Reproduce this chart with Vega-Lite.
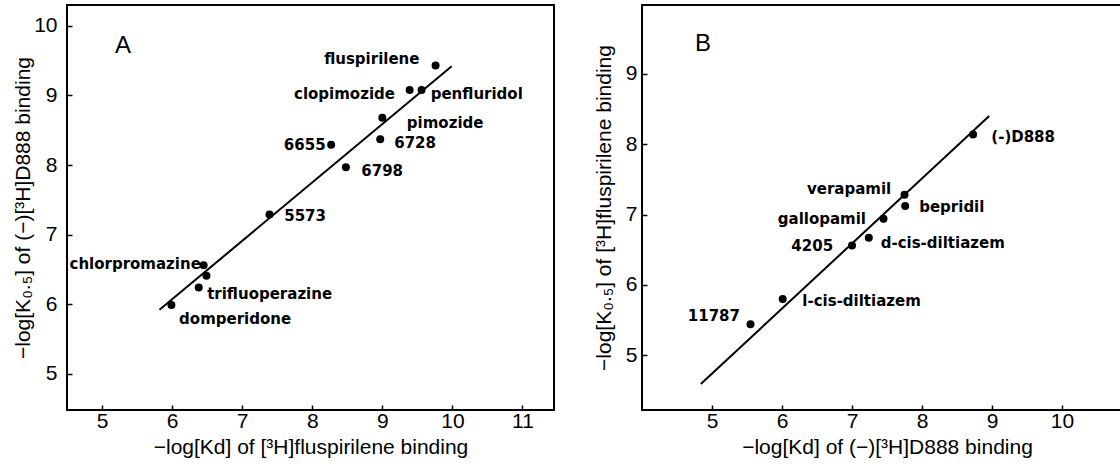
{
  "$schema": "https://vega.github.io/schema/vega-lite/v6.json",
  "padding": {"left": 11, "top": 4, "right": 0, "bottom": 0},
  "background": "white",
  "spacing": 37,
  "config": {
    "view": {"stroke": "black", "strokeWidth": 2},
    "font": "Liberation Sans",
    "axis": {
      "domain": false, "grid": false, "tickSize": -5, "tickColor": "black", "tickWidth": 1.5, "format": "d",
      "labelFontSize": 21, "labelColor": "black", "labelFont": "Liberation Sans",
      "titleFontSize": 21, "titleFontWeight": "normal", "titleColor": "black", "titleFont": "Liberation Sans"
    }
  },
  "datasets": {
    "pointsA": [
      {"drug": "fluspirilene", "x": 9.76, "y": 9.43, "lx": 9.53, "ly": 9.52},
      {"drug": "clopimozide", "x": 9.39, "y": 9.08, "lx": 9.18, "ly": 9.02},
      {"drug": "penfluridol", "x": 9.56, "y": 9.08, "lx": 9.69, "ly": 9.02},
      {"drug": "pimozide", "x": 9.0, "y": 8.68, "lx": 9.35, "ly": 8.61},
      {"drug": "6728", "x": 8.97, "y": 8.37, "lx": 9.17, "ly": 8.32},
      {"drug": "6655", "x": 8.27, "y": 8.29, "lx": 8.19, "ly": 8.29},
      {"drug": "6798", "x": 8.48, "y": 7.97, "lx": 8.7, "ly": 7.92},
      {"drug": "5573", "x": 7.39, "y": 7.29, "lx": 7.6, "ly": 7.27},
      {"drug": "chlorpromazine", "x": 6.45, "y": 6.56, "lx": 6.41, "ly": 6.58},
      {"drug": "", "x": 6.49, "y": 6.41, "lx": 6.49, "ly": 6.41},
      {"drug": "trifluoperazine", "x": 6.38, "y": 6.24, "lx": 6.5, "ly": 6.15},
      {"drug": "domperidone", "x": 5.99, "y": 5.99, "lx": 6.1, "ly": 5.79}
    ],
    "fitA": [{"x": 5.82, "y": 5.92}, {"x": 9.99, "y": 9.42}],
    "pointsB": [
      {"drug": "(-)D888", "x": 8.73, "y": 8.14, "lx": 8.99, "ly": 8.1},
      {"drug": "verapamil", "x": 7.75, "y": 7.28, "lx": 7.56, "ly": 7.37},
      {"drug": "bepridil", "x": 7.76, "y": 7.12, "lx": 7.96, "ly": 7.11},
      {"drug": "gallopamil", "x": 7.45, "y": 6.94, "lx": 7.2, "ly": 6.93},
      {"drug": "d-cis-diltiazem", "x": 7.24, "y": 6.67, "lx": 7.41, "ly": 6.6},
      {"drug": "4205", "x": 7.0, "y": 6.56, "lx": 6.73, "ly": 6.55},
      {"drug": "l-cis-diltiazem", "x": 6.01, "y": 5.8, "lx": 6.29, "ly": 5.77},
      {"drug": "11787", "x": 5.55, "y": 5.44, "lx": 5.4, "ly": 5.55}
    ],
    "fitB": [{"x": 4.84, "y": 4.59}, {"x": 8.96, "y": 8.4}],
    "panelA": [{"label": "A", "x": 5.3, "y": 9.71}],
    "panelB": [{"label": "B", "x": 4.87, "y": 9.42}]
  },
  "hconcat": [
    {
      "width": 487,
      "height": 405,
      "layer": [
        {
          "data": {"name": "fitA"},
          "mark": {"type": "line", "color": "black", "strokeWidth": 2},
          "encoding": {
            "x": {"field": "x", "type": "quantitative", "scale": {"domain": [4.5, 11.45], "nice": false, "zero": false},
                  "axis": {"values": [5, 6, 7, 8, 9, 10, 11], "labelPadding": 5, "titlePadding": 5, "title": "−log[Kd] of [³H]fluspirilene binding"}},
            "y": {"field": "y", "type": "quantitative", "scale": {"domain": [4.48, 10.3], "nice": false, "zero": false},
                  "axis": {"values": [5, 6, 7, 8, 9, 10], "labelPadding": 15, "titlePadding": 0, "title": "−log[K₀.₅] of (−)[³H]D888 binding"}}
          }
        },
        {
          "data": {"name": "pointsA"},
          "mark": {"type": "circle", "color": "black", "opacity": 1, "size": 64},
          "encoding": {
            "x": {"field": "x", "type": "quantitative"},
            "y": {"field": "y", "type": "quantitative"}
          }
        },
        {
          "data": {"name": "pointsA"},
          "transform": [{"filter": "datum.lx > datum.x"}],
          "mark": {"type": "text", "align": "left", "baseline": "middle", "font": "DejaVu Sans", "fontWeight": "bold", "fontSize": 15, "color": "black"},
          "encoding": {
            "x": {"field": "lx", "type": "quantitative"},
            "y": {"field": "ly", "type": "quantitative"},
            "text": {"field": "drug"}
          }
        },
        {
          "data": {"name": "pointsA"},
          "transform": [{"filter": "datum.lx < datum.x"}],
          "mark": {"type": "text", "align": "right", "baseline": "middle", "font": "DejaVu Sans", "fontWeight": "bold", "fontSize": 15, "color": "black"},
          "encoding": {
            "x": {"field": "lx", "type": "quantitative"},
            "y": {"field": "ly", "type": "quantitative"},
            "text": {"field": "drug"}
          }
        },
        {
          "data": {"name": "panelA"},
          "mark": {"type": "text", "align": "center", "baseline": "middle", "fontSize": 24, "color": "black"},
          "encoding": {
            "x": {"field": "x", "type": "quantitative"},
            "y": {"field": "y", "type": "quantitative"},
            "text": {"field": "label"}
          }
        }
      ]
    },
    {
      "width": 490,
      "height": 405,
      "layer": [
        {
          "data": {"name": "fitB"},
          "mark": {"type": "line", "color": "black", "strokeWidth": 2},
          "encoding": {
            "x": {"field": "x", "type": "quantitative", "scale": {"domain": [4.0, 11.0], "nice": false, "zero": false},
                  "axis": {"values": [5, 6, 7, 8, 9, 10], "labelPadding": 5, "titlePadding": 5, "title": "−log[Kd] of (−)[³H]D888 binding"}},
            "y": {"field": "y", "type": "quantitative", "scale": {"domain": [4.22, 9.98], "nice": false, "zero": false},
                  "axis": {"values": [5, 6, 7, 8, 9], "labelPadding": 10, "titlePadding": 11, "title": "−log[K₀.₅] of [³H]fluspirilene binding"}}
          }
        },
        {
          "data": {"name": "pointsB"},
          "mark": {"type": "circle", "color": "black", "opacity": 1, "size": 64},
          "encoding": {
            "x": {"field": "x", "type": "quantitative"},
            "y": {"field": "y", "type": "quantitative"}
          }
        },
        {
          "data": {"name": "pointsB"},
          "transform": [{"filter": "datum.lx > datum.x"}],
          "mark": {"type": "text", "align": "left", "baseline": "middle", "font": "DejaVu Sans", "fontWeight": "bold", "fontSize": 15, "color": "black"},
          "encoding": {
            "x": {"field": "lx", "type": "quantitative"},
            "y": {"field": "ly", "type": "quantitative"},
            "text": {"field": "drug"}
          }
        },
        {
          "data": {"name": "pointsB"},
          "transform": [{"filter": "datum.lx < datum.x"}],
          "mark": {"type": "text", "align": "right", "baseline": "middle", "font": "DejaVu Sans", "fontWeight": "bold", "fontSize": 15, "color": "black"},
          "encoding": {
            "x": {"field": "lx", "type": "quantitative"},
            "y": {"field": "ly", "type": "quantitative"},
            "text": {"field": "drug"}
          }
        },
        {
          "data": {"name": "panelB"},
          "mark": {"type": "text", "align": "center", "baseline": "middle", "fontSize": 24, "color": "black"},
          "encoding": {
            "x": {"field": "x", "type": "quantitative"},
            "y": {"field": "y", "type": "quantitative"},
            "text": {"field": "label"}
          }
        }
      ]
    }
  ]
}
